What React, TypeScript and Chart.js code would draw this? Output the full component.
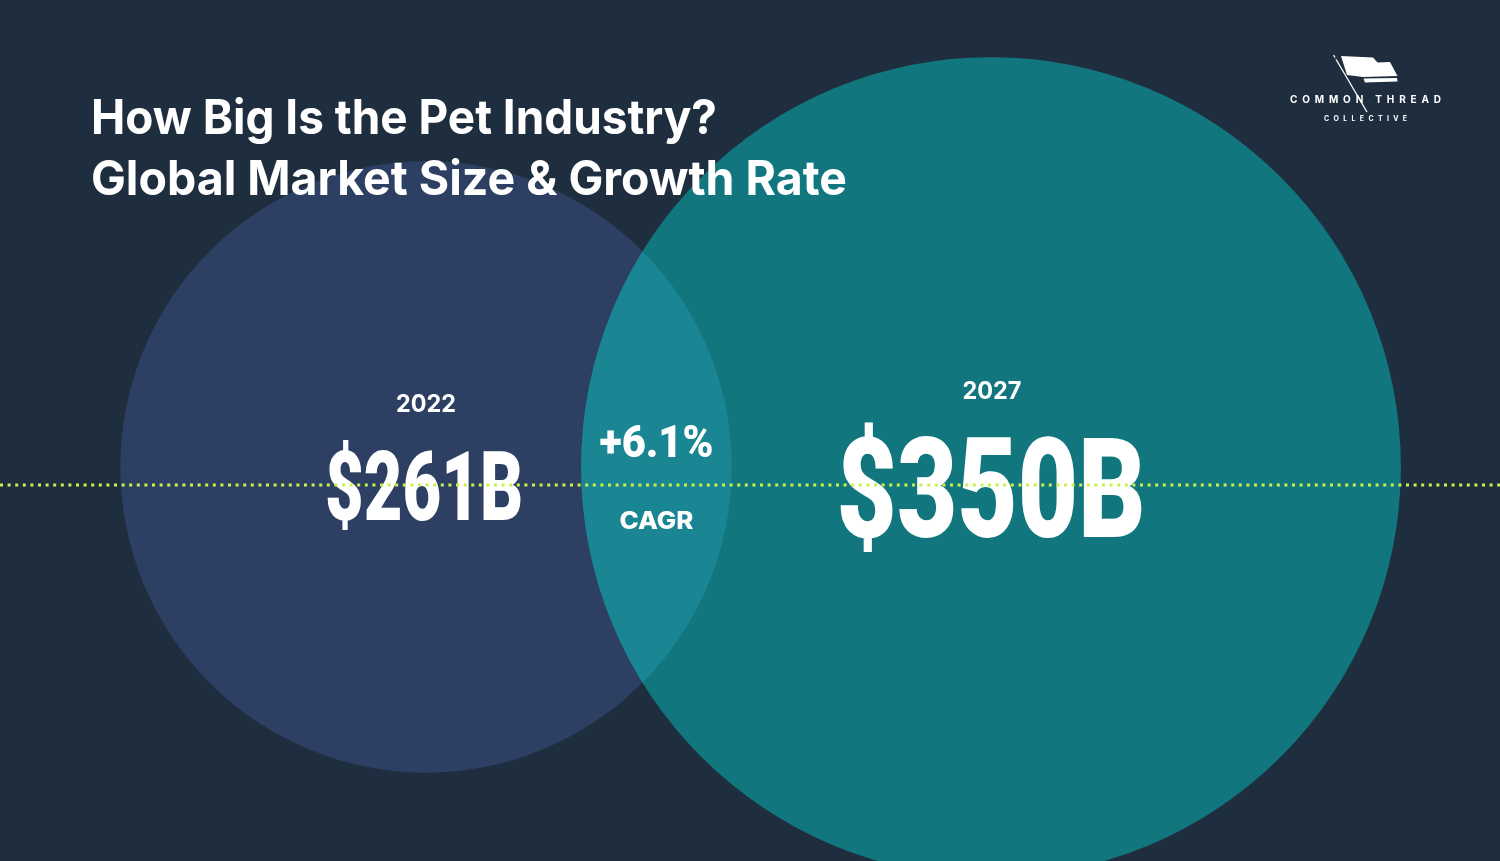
import React, { useEffect, useRef } from 'react';
import { Chart, registerables } from 'chart.js';

Chart.register(...registerables);

// ---- data ----
const years = [2022, 2027];
const marketSizeB = [261, 350];
const yearLabels = ['2022', '2027'];
const valueLabels = ['$261B', '$350B'];
const cagrLabel = '+6.1%';
const cagrCaption = 'CAGR';
const titleLines = ['How Big Is the Pet Industry?', 'Global Market Size & Growth Rate'];
const brandLines = ['COMMON THREAD', 'COLLECTIVE'];
const guideLevel = -18;

// ---- styles ----
const W = 1500;
const H = 861;
const BG = '#1f2e3e';
const CIRCLE_COLORS = ['#2d4063', '#12767f'];
const OVERLAP_COLOR = '#1a8694';
const GUIDE_COLOR = '#c8f24a';
const PX_PER_BILLION = 1.171;
const X_MIN = 2018.2301;
const X_MAX = 2031.5044;
const Y_MIN = -394;
const Y_MAX = 467;

function drawFitted(ctx: CanvasRenderingContext2D, text: string, font: string, cx: number, baseline: number, width: number) {
  ctx.save();
  ctx.font = font;
  ctx.textAlign = 'center';
  ctx.textBaseline = 'alphabetic';
  const w = ctx.measureText(text).width;
  ctx.translate(cx, baseline);
  ctx.scale(width / w, 1);
  ctx.fillStyle = '#ffffff';
  ctx.fillText(text, 0, 0);
  ctx.restore();
}

function drawLeftFitted(ctx: CanvasRenderingContext2D, text: string, font: string, x: number, baseline: number, width: number) {
  ctx.save();
  ctx.font = font;
  ctx.textAlign = 'left';
  ctx.textBaseline = 'alphabetic';
  const w = ctx.measureText(text).width;
  ctx.translate(x, baseline);
  ctx.scale(width / w, 1);
  ctx.fillStyle = '#ffffff';
  ctx.fillText(text, 0, 0);
  ctx.restore();
}

function drawSpaced(ctx: CanvasRenderingContext2D, text: string, font: string, x0: number, x1: number, baseline: number) {
  ctx.save();
  ctx.font = font;
  ctx.textAlign = 'left';
  ctx.textBaseline = 'alphabetic';
  ctx.fillStyle = '#ffffff';
  const chars = text.split('');
  const widths = chars.map((c) => ctx.measureText(c).width);
  const total = widths.reduce((a, b) => a + b, 0);
  const gap = (x1 - x0 - total) / (chars.length - 1);
  let x = x0;
  chars.forEach((c, i) => {
    ctx.fillText(c, x, baseline);
    x += widths[i] + gap;
  });
  ctx.restore();
}

const backgroundPlugin = {
  id: 'bgFill',
  beforeDraw(chart: any) {
    const ctx = chart.ctx as CanvasRenderingContext2D;
    ctx.save();
    ctx.fillStyle = BG;
    ctx.fillRect(0, 0, chart.width, chart.height);
    ctx.restore();
  },
};

const overlapAndTextPlugin = {
  id: 'overlapText',
  afterDatasetDraw(chart: any, args: any) {
    if (args.index !== 1) return;
    const ctx = chart.ctx as CanvasRenderingContext2D;
    const els = args.meta.data;
    const a = els[0];
    const b = els[1];
    const ra = a.options.radius;
    const rb = b.options.radius;
    // overlap lens
    ctx.save();
    ctx.beginPath();
    ctx.arc(a.x, a.y, ra, 0, Math.PI * 2);
    ctx.clip();
    ctx.beginPath();
    ctx.arc(b.x, b.y, rb, 0, Math.PI * 2);
    ctx.fillStyle = OVERLAP_COLOR;
    ctx.fill();
    ctx.restore();

    // labels
    const yearFont = '700 24px Inter, "Open Sans", sans-serif';
    drawFitted(ctx, yearLabels[0], yearFont, a.x, a.y - 55, 60);
    drawFitted(ctx, yearLabels[1], yearFont, b.x + 1, b.y - 68, 59);
    drawFitted(ctx, valueLabels[0], '900 96px Roboto, sans-serif', a.x - 2, a.y + 53, 198);
    drawFitted(ctx, valueLabels[1], '900 139px Roboto, sans-serif', b.x, b.y + 70, 309);

    const lensCx = ((b.x - rb) + (a.x + ra)) / 2;
    drawFitted(ctx, cagrLabel, '900 44px Roboto, sans-serif', lensCx, a.y - 10, 114);
    drawFitted(ctx, cagrCaption, '800 24px Inter, "Open Sans", sans-serif', lensCx, a.y + 62, 74);

    // title
    const titleFont = '700 48px Inter, "Open Sans", sans-serif';
    drawLeftFitted(ctx, titleLines[0], titleFont, 91, 134, 626);
    drawLeftFitted(ctx, titleLines[1], titleFont, 91, 195, 756);

    // brand mark
    ctx.save();
    ctx.fillStyle = '#ffffff';
    ctx.beginPath();
    ctx.moveTo(1341, 56);
    ctx.lineTo(1373, 57.5);
    ctx.lineTo(1377.5, 62.5);
    ctx.lineTo(1390, 62);
    ctx.lineTo(1397.5, 76);
    ctx.lineTo(1363, 77);
    ctx.lineTo(1347, 75);
    ctx.closePath();
    ctx.fill();
    ctx.beginPath();
    ctx.moveTo(1363.5, 78.5);
    ctx.lineTo(1397, 78);
    ctx.lineTo(1397.5, 81.5);
    ctx.lineTo(1365, 82.5);
    ctx.closePath();
    ctx.fill();
    ctx.strokeStyle = '#ffffff';
    ctx.lineWidth = 1.3;
    ctx.beginPath();
    ctx.moveTo(1333.5, 55);
    ctx.lineTo(1367, 112);
    ctx.stroke();
    ctx.fillStyle = BG;
    ctx.beginPath();
    ctx.ellipse(1335.5, 58.5, 0.6, 1.6, -0.53, 0, Math.PI * 2);
    ctx.fill();
    ctx.restore();
    drawSpaced(ctx, brandLines[0], '700 10px Inter, "Open Sans", sans-serif', 1290, 1441, 103);
    drawSpaced(ctx, brandLines[1], '700 7px Inter, "Open Sans", sans-serif', 1324, 1407, 121);
  },
};

export default function App() {
  const canvasRef = useRef<HTMLCanvasElement | null>(null);

  useEffect(() => {
    document.body.style.margin = '0';
    document.body.style.background = BG;
    const canvas = canvasRef.current;
    if (!canvas) return;

    const bubbles = years.map((yr, i) => ({ x: yr, y: 0, r: marketSizeB[i] * PX_PER_BILLION }));

    const chart = new Chart(canvas, {
      type: 'bubble',
      data: {
        datasets: [
          {
            type: 'line',
            label: 'guide',
            data: [
              { x: X_MIN, y: guideLevel },
              { x: X_MAX, y: guideLevel },
            ],
            borderColor: GUIDE_COLOR,
            borderWidth: 2.8,
            borderDash: [3, 4.6],
            borderCapStyle: 'butt',
            pointRadius: 0,
            fill: false,
            order: 0,
          } as any,
          {
            type: 'bubble',
            label: 'Market size',
            data: bubbles,
            backgroundColor: CIRCLE_COLORS,
            hoverBackgroundColor: CIRCLE_COLORS,
            borderWidth: 0,
            hoverBorderWidth: 0,
            order: 1,
          } as any,
        ],
      },
      options: {
        responsive: false,
        animation: false,
        events: [],
        layout: { padding: 0, autoPadding: false },
        scales: {
          x: { type: 'linear', min: X_MIN, max: X_MAX, display: false },
          y: { type: 'linear', min: Y_MIN, max: Y_MAX, display: false },
        },
        plugins: {
          legend: { display: false },
          tooltip: { enabled: false },
          title: { display: false },
        },
      } as any,
      plugins: [backgroundPlugin, overlapAndTextPlugin],
    });

    return () => chart.destroy();
  }, []);

  return (
    <div style={{ width: W, height: H, background: BG, overflow: 'hidden' }}>
      <canvas ref={canvasRef} width={W} height={H} style={{ display: 'block', width: W, height: H }} />
    </div>
  );
}
